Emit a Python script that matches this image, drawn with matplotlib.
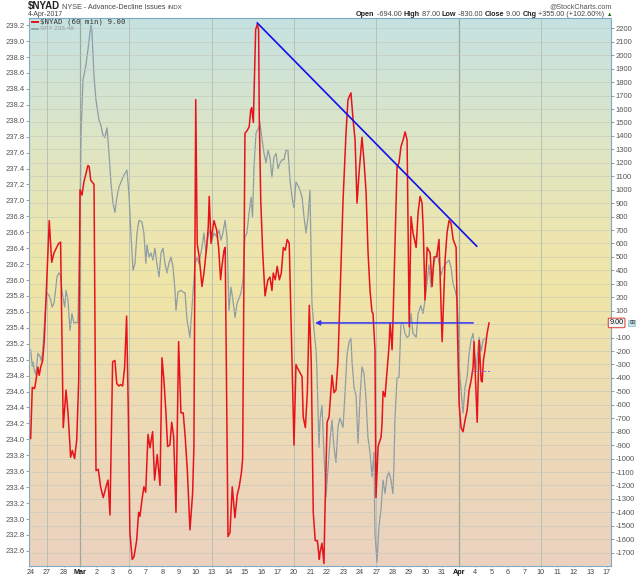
import numpy as np
import matplotlib
matplotlib.use('Agg')
import matplotlib.pyplot as plt
import matplotlib.transforms as mtrans
from matplotlib.colors import LinearSegmentedColormap
from matplotlib.lines import Line2D

plt.rcParams['font.family'] = ['Liberation Sans', 'DejaVu Sans']

# ---------------- data ----------------
day_labels = ['24', '27', '28', 'Mar', '2', '3', '6', '7', '8', '9', '10', '13', '14', '15', '16', '17',
              '20', '21', '22', '23', '24', '27', '28', '29', '30', '31', 'Apr', '4', '5', '6', '7',
              '10', '11', '12', '13', '17']
bold_labels = ['Mar', 'Apr']
week_grid_days = [1, 6, 11, 16, 21, 31]
month_grid_days = [3, 26]

spy_ticks = np.round(np.arange(232.6, 239.21, 0.2), 1)
nyad_ticks = np.arange(-1700, 2201, 100)

# $NYAD hourly (x = trading-day index, fractional within day)
nyad_t = [0.00, 0.10, 0.24, 0.36, 0.44, 0.52, 0.61, 0.73, 0.83, 0.93, 1.13, 1.28, 1.42, 1.58, 1.70, 1.82,
          1.98, 2.15, 2.27, 2.43, 2.53, 2.67, 2.80, 2.92,
          3.00, 3.12, 3.24, 3.36, 3.48, 3.56, 3.65, 3.85,
          3.97, 4.11, 4.25, 4.41, 4.58, 4.70, 4.82,
          4.98, 5.12, 5.23, 5.35, 5.47, 5.59, 5.71, 5.83, 5.93,
          6.03, 6.17, 6.28, 6.44, 6.56, 6.64, 6.76, 6.88, 6.99,
          7.13, 7.25, 7.41, 7.53, 7.69, 7.86,
          7.98, 8.10, 8.22, 8.32, 8.46, 8.57, 8.69, 8.83,
          8.99, 9.13, 9.27, 9.39, 9.52, 9.68, 9.84, 9.92,
          10.03, 10.12, 10.24, 10.41, 10.53, 10.69, 10.79, 10.85, 10.96,
          11.03, 11.14, 11.30, 11.42, 11.54, 11.62, 11.75, 11.82,
          11.99, 12.11, 12.25, 12.41, 12.55, 12.67, 12.80, 12.88,
          13.02, 13.16, 13.28, 13.37, 13.43, 13.53, 13.59, 13.67, 13.77, 13.85, 13.89,
          13.98, 14.10, 14.24, 14.34, 14.42, 14.54, 14.66, 14.74, 14.86,
          14.98, 15.11, 15.23, 15.35, 15.47, 15.59, 15.71,
          16.00, 16.12, 16.22, 16.36, 16.49, 16.56, 16.69, 16.81, 16.93,
          17.05, 17.17, 17.29, 17.42, 17.54, 17.58, 17.70, 17.82,
          17.88, 18.01, 18.13, 18.31, 18.43, 18.55, 18.67,
          18.98, 19.16, 19.28, 19.46, 19.59, 19.71, 19.83, 19.95,
          20.13, 20.25, 20.38, 20.50, 20.62, 20.74, 20.80, 20.92,
          20.98, 21.11, 21.29, 21.35, 21.41, 21.53, 21.65, 21.77, 21.84, 21.96, 22.02,
          22.26, 22.38, 22.50, 22.63, 22.75, 22.87,
          23.00, 23.11, 23.23, 23.42, 23.54, 23.66, 23.78, 23.86, 23.96,
          24.09, 24.27, 24.39, 24.51, 24.67, 24.81, 25.00,
          25.18, 25.30, 25.42, 25.54, 25.67, 25.79, 25.85, 25.93,
          26.03, 26.15, 26.27, 26.40, 26.52, 26.64, 26.76, 26.88, 26.94, 27.00,
          27.13, 27.19, 27.25, 27.37, 27.43, 27.51, 27.61, 27.73, 27.85]
nyad_v = [-850, -470, -480, -390, -320, -380, -320, -270, -120, 180, 770, 460, 530, 570, 600, 610,
          -770, -490, -660, -990, -940, -1000, -860, -420,
          1000, 960, 1060, 1120, 1180, 1170, 1070, 1040,
          -1090, -1080, -1210, -1290, -1210, -1160, -1420,
          -280, -270, -440, -460, -450, -460, -320, 60, -620,
          -1550, -1750, -1730, -1610, -1400, -1430, -1310, -1210, -1250,
          -820, -920, -800, -1160, -970, -1200,
          -250, -420, -660, -910, -900, -730, -840, -1400,
          -130, -660, -660, -840, -1090, -1530, -1260, -910,
          1670, 600, 500, 280, 380, 570, 720, 950, 600,
          680, 770, 700, 570, 330, 430, 550, 570,
          -1580, -1550, -1210, -1440, -1270, -1210, -1110, -1000,
          1420, 1440, 1470, 1590, 1610, 1500, 1790, 2190, 2230, 2190, 1540,
          920, 530, 210, 280, 330, 350, 250, 380, 330,
          430, 330, 380, 570, 550, 630, 600,
          -900, -300, -330, -360, -390, -690, -770, -510, 140,
          -290, -1400, -1610, -1610, -1750, -1700, -1630, -1780,
          -1400, -730, -690, -380, -510, -490, -280,
          920, 1420, 1670, 1720, 1520, 1370, 900, 1120,
          1390, 1220, 980, 530, 250, 90, 80, -190,
          -1290, -910, -840, -740, -500, -540, -360, -170, 10, -190, 50,
          1170, 1200, 1320, 1370, 1430, 1370,
          -20, 800, 680, 570, 830, 950, 900, 680, 180,
          570, 530, 280, 500, 500, 630, -130,
          480, 680, 770, 750, 630, 590, 570, -40,
          -590, -770, -800, -710, -640, -490, -420, -320, -130, -320,
          -730, -420, -120, -420, -430, -270, -190, -70, 9]

# SPY hourly
spy_t = [0.00, 0.10, 0.15, 0.22, 0.32, 0.44, 0.57, 0.64, 0.73, 0.81, 0.93, 0.99,
         1.11, 1.22, 1.31, 1.42, 1.50, 1.60, 1.72, 1.82, 1.90,
         1.96, 2.07, 2.15, 2.27, 2.39, 2.51, 2.63, 2.75, 2.87,
         3.00, 3.06, 3.18, 3.36, 3.48, 3.66, 3.72, 3.85,
         3.97, 4.15, 4.27, 4.39, 4.51, 4.64, 4.76, 4.88,
         5.00, 5.12, 5.24, 5.37, 5.49, 5.67, 5.85, 5.97,
         6.09, 6.22, 6.34, 6.46, 6.58, 6.76, 6.88,
         7.00, 7.07, 7.19, 7.31, 7.43, 7.55, 7.67, 7.80,
         7.92, 8.04, 8.16, 8.28, 8.40, 8.53, 8.65, 8.77,
         8.83, 8.95, 9.13, 9.25, 9.38, 9.50, 9.68,
         9.98, 10.10, 10.22, 10.41, 10.53, 10.65, 10.77,
         10.89, 11.02, 11.14, 11.32, 11.44, 11.56, 11.68, 11.81, 11.93,
         12.05, 12.17, 12.29, 12.42, 12.54, 12.66, 12.78, 12.90,
         13.02, 13.14, 13.27, 13.39, 13.48, 13.57, 13.69, 13.87,
         13.93, 14.06, 14.18, 14.30, 14.42, 14.54, 14.66, 14.78,
         14.91, 15.03, 15.15, 15.27, 15.39, 15.51, 15.63, 15.76,
         15.88, 16.00, 16.12, 16.24, 16.36, 16.49, 16.61, 16.73, 16.85,
         16.97, 17.09, 17.22, 17.34, 17.40, 17.52, 17.58, 17.70, 17.82,
         17.94, 18.07, 18.19, 18.31, 18.43, 18.55, 18.67, 18.79,
         18.98, 19.10, 19.22, 19.34, 19.46, 19.53, 19.65, 19.77,
         19.89, 20.01, 20.13, 20.25, 20.37, 20.49, 20.62, 20.74, 20.86,
         20.92, 21.04, 21.16, 21.28, 21.41, 21.53, 21.65, 21.77, 21.89,
         22.01, 22.07, 22.13, 22.26, 22.38, 22.50, 22.62, 22.74, 22.87,
         22.99, 23.11, 23.23, 23.42, 23.54, 23.70, 23.84, 23.96,
         24.08, 24.20, 24.33, 24.45, 24.57, 24.69, 24.81, 24.93,
         25.06, 25.23, 25.42, 25.54, 25.66, 25.79, 25.91,
         25.97, 26.03, 26.15, 26.27, 26.39, 26.52, 26.64, 26.76, 26.88,
         26.94, 27.06, 27.18, 27.25, 27.37, 27.49, 27.61]
spy_v = [235.12, 234.92, 234.97, 234.87, 234.81, 235.08, 235.04, 234.99, 235.10, 235.37, 235.75, 235.84,
         235.81, 235.75, 235.66, 235.71, 235.84, 236.04, 236.09, 236.06, 235.87,
         235.79, 235.66, 235.87, 235.75, 235.37, 235.58, 235.46, 235.47, 235.46,
         236.75, 237.84, 238.51, 238.70, 238.89, 239.20, 239.14, 238.55,
         238.26, 238.01, 237.94, 237.82, 237.79, 237.91, 237.59, 237.22,
         236.97, 236.85, 237.04, 237.17, 237.23, 237.32, 237.38, 237.09,
         236.59, 236.12, 236.21, 236.59, 236.75, 236.73, 236.59,
         236.21, 236.44, 236.29, 236.34, 236.25, 236.40, 236.21, 236.04,
         236.34, 236.40, 236.21, 236.09, 236.21, 236.29, 236.16, 235.87,
         235.62, 235.85, 235.87, 235.85, 235.84, 235.50, 235.28,
         236.19, 236.29, 236.21, 236.41, 236.59, 236.34, 236.54,
         236.63, 236.50, 236.59, 236.54, 236.63, 236.50, 236.59, 236.75, 236.54,
         235.62, 235.91, 235.75, 235.53, 235.71, 235.77, 235.84, 236.00,
         236.54, 236.59, 236.84, 237.04, 236.79, 237.42, 237.84, 237.92,
         237.97, 237.76, 237.59, 237.47, 237.63, 237.54, 237.29, 237.54,
         237.59, 237.40, 237.47, 237.51, 237.51, 237.63, 237.63, 237.25,
         237.04, 236.91, 237.23, 237.19, 237.13, 237.04, 236.79, 236.59, 236.79,
         237.13, 235.71, 235.37, 235.12, 234.83, 233.90, 234.24, 234.43, 233.83,
         233.27, 233.65, 233.99, 234.24, 233.90, 233.71, 234.15, 234.27,
         234.15, 234.58, 235.06, 235.22, 235.27, 234.96, 234.65, 234.55,
         233.95, 234.52, 234.91, 234.83, 234.53, 234.03, 233.83, 233.53, 233.84,
         232.82, 232.46, 232.90, 233.11, 233.49, 233.32, 233.53, 233.59, 233.49,
         233.32, 233.65, 234.24, 234.77, 234.78, 235.46, 235.46, 235.33, 235.28,
         235.30, 235.58, 235.33, 235.28, 235.58, 235.68, 235.58, 235.75,
         235.96, 236.19, 235.91, 236.16, 236.27, 236.34, 236.22, 236.06,
         236.15, 236.21, 236.25, 236.16, 235.96, 235.87, 235.75,
         235.50, 234.91, 234.62, 234.33, 234.65, 234.78, 235.08, 235.25, 235.33,
         235.14, 234.87, 235.15, 235.28, 235.10, 235.25, 235.27]

# annotations (NYAD scale)
trend_t = [13.77, 27.10]
trend_v = [2240, 580]
arrow_t = [26.89, 17.28]
arrow_v = 9
marker_t = [26.80, 27.95]
marker_v = -350

header_left = [(r'\$NYAD', 'bold', 7.0, '#222222'), (' NYSE - Advance-Decline Issues ', 'normal', 5.2, '#444444'),
               ('INDX', 'normal', 4.4, '#444444')]
header_date = '4-Apr-2017'
header_right = [('Open', 'bold', 5.2, '#222222'), (' -694.00 ', 'normal', 5.2, '#444444'),
                ('High', 'bold', 5.2, '#222222'), (' 87.00 ', 'normal', 5.2, '#444444'),
                ('Low', 'bold', 5.2, '#222222'), (' -830.00 ', 'normal', 5.2, '#444444'),
                ('Close', 'bold', 5.2, '#222222'), (' 9.00 ', 'normal', 5.2, '#444444'),
                ('Chg', 'bold', 5.2, '#222222'), (' +355.00 (+102.60%) ', 'normal', 5.2, '#444444'),
                ('\u25b2', 'normal', 4.0, '#226622')]
credit = '@StockCharts.com'
legend_nyad = '$NYAD (60 min) 9.00'
legend_spy = 'SPY 235.48'

# ---------------- figure ----------------
W, H = 640, 576
fig = plt.figure(figsize=(W / 100, H / 100), dpi=100)
fig.patch.set_facecolor('white')
L, R, T, B = 29, 611, 18, 566
ax = fig.add_axes([L / W, 1 - B / H, (R - L) / W, (B - T) / H])
ax.set_xlim(-0.10, 35.26)
ax.set_ylim(232.41, 239.29)
ax2 = ax.twinx()
ax2.set_ylim(-1799, 2277)

# gradient background
cmap = LinearSegmentedColormap.from_list('bg', [
    (0.0, '#ebd2c0'), (0.28, '#eddbb5'), (0.5, '#f0e5a6'), (0.6, '#ede6ae'),
    (0.8, '#dbe5c8'), (1.0, '#c5e2e2')])
grad = np.linspace(0, 1, 256)[:, None]
ax.imshow(grad, extent=[0, 1, 0, 1], transform=ax.transAxes, origin='lower',
          aspect='auto', cmap=cmap, zorder=0)

for d in week_grid_days:
    ax.axvline(d, color='#b9c0b4', lw=0.7, zorder=0.6)
for d in month_grid_days:
    ax.axvline(d, color='#9ea89a', lw=0.9, zorder=0.6)
for v in nyad_ticks:
    ax2.axhline(v, color='#c2c6bc', lw=0.5, alpha=0.8, zorder=0.5)

ax.plot(spy_t, spy_v, color='#8e9ca4', lw=0.9, zorder=2)
ax2.plot(nyad_t, nyad_v, color='#e8121a', lw=1.1, zorder=3, solid_joinstyle='round')

ax2.plot(trend_t, trend_v, color='#1010ee', lw=1.2, zorder=4)
ax2.annotate('', xy=(arrow_t[1], arrow_v), xytext=(arrow_t[0], arrow_v),
             arrowprops=dict(arrowstyle='-|>', color='#3434f2', lw=1.1, mutation_scale=7,
                             shrinkA=0, shrinkB=0), zorder=4)
ax2.plot(marker_t, [marker_v, marker_v], color='#7070ee', lw=0.7, ls=(0, (2, 2)), zorder=4)

# ticks
ax.set_xticks(range(len(day_labels)))
ax.set_xticklabels(day_labels)
for lab in ax.get_xticklabels():
    lab.set_fontsize(5.2)
    lab.set_color('#444444')
    if lab.get_text() in bold_labels:
        lab.set_fontweight('bold')
        lab.set_color('#111111')
ax.tick_params(axis='x', length=1, width=0.5, color='#999999', pad=0.8)

ax.set_yticks(spy_ticks)
ax.set_yticklabels([f'{v:.1f}' for v in spy_ticks])
ax.tick_params(axis='y', labelsize=5.5, labelcolor='#555555', length=2, width=0.5,
               color='#777777', pad=1)
ax2.set_yticks(nyad_ticks)
ax2.set_yticklabels(['' if v == 0 else str(v) for v in nyad_ticks])
ax2.tick_params(axis='y', labelsize=5.5, labelcolor='#555555', length=2, width=0.5,
                color='#777777', pad=1.5)

for sp in ax.spines.values():
    sp.set_color('#7fa9c4')
    sp.set_linestyle((0, (1, 1)))
    sp.set_linewidth(0.8)
for sp in ax2.spines.values():
    sp.set_visible(False)

# current value tag
blend = mtrans.blended_transform_factory(ax2.transAxes, ax2.transData)
ax2.text(0.9975, arrow_v, '9.00', transform=blend, ha='left', va='center', fontsize=5.2,
         color='#111111', zorder=6, clip_on=False,
         bbox=dict(boxstyle='round,pad=0.18', fc='#eef7f6', ec='#e03030', lw=0.7))
ax2.text(1.031, arrow_v, '\u229e', transform=blend, ha='left', va='center', fontsize=4.2,
         color='#333333', zorder=6, clip_on=False, family='DejaVu Sans',
         bbox=dict(boxstyle='square,pad=0.1', fc='#bfe4ea', ec='#88aabb', lw=0.4))

# legend
fig.add_artist(Line2D([(L + 3) / W, (L + 9) / W], [1 - 22 / H, 1 - 22 / H], color='#e8121a', lw=1.4))
fig.text((L + 11) / W, 1 - 22 / H, legend_nyad, fontsize=5.3, color='#333333', va='center',
         family='DejaVu Sans Mono')
fig.add_artist(Line2D([(L + 3) / W, (L + 9) / W], [1 - 29 / H, 1 - 29 / H], color='#8e9ca4', lw=1.2))
fig.text((L + 11) / W, 1 - 29 / H, legend_spy, fontsize=4.6, color='#8e9ca4', va='center')

# header
fig.canvas.draw()
renderer = fig.canvas.get_renderer()


def draw_runs(runs, x0, ypx, align='left'):
    objs = []
    for txt, wt, sz, col in runs:
        t = fig.text(0, 1 - ypx / H, txt, fontsize=sz, fontweight=wt, color=col, va='baseline')
        objs.append(t)
    widths = [o.get_window_extent(renderer).width for o in objs]
    total = sum(widths)
    x = x0 - total if align == 'right' else x0
    for o, w in zip(objs, widths):
        o.set_x(x / W)
        x += w


draw_runs(header_left, 28, 9)
fig.text(28 / W, 1 - 16 / H, header_date, fontsize=5.0, color='#444444', va='baseline')
draw_runs(header_right, 612, 16, align='right')
fig.text(612 / W, 1 - 8 / H, credit, fontsize=5.2, color='#555555', va='baseline', ha='right')

fig.savefig('out.png', dpi=100, facecolor='white')
